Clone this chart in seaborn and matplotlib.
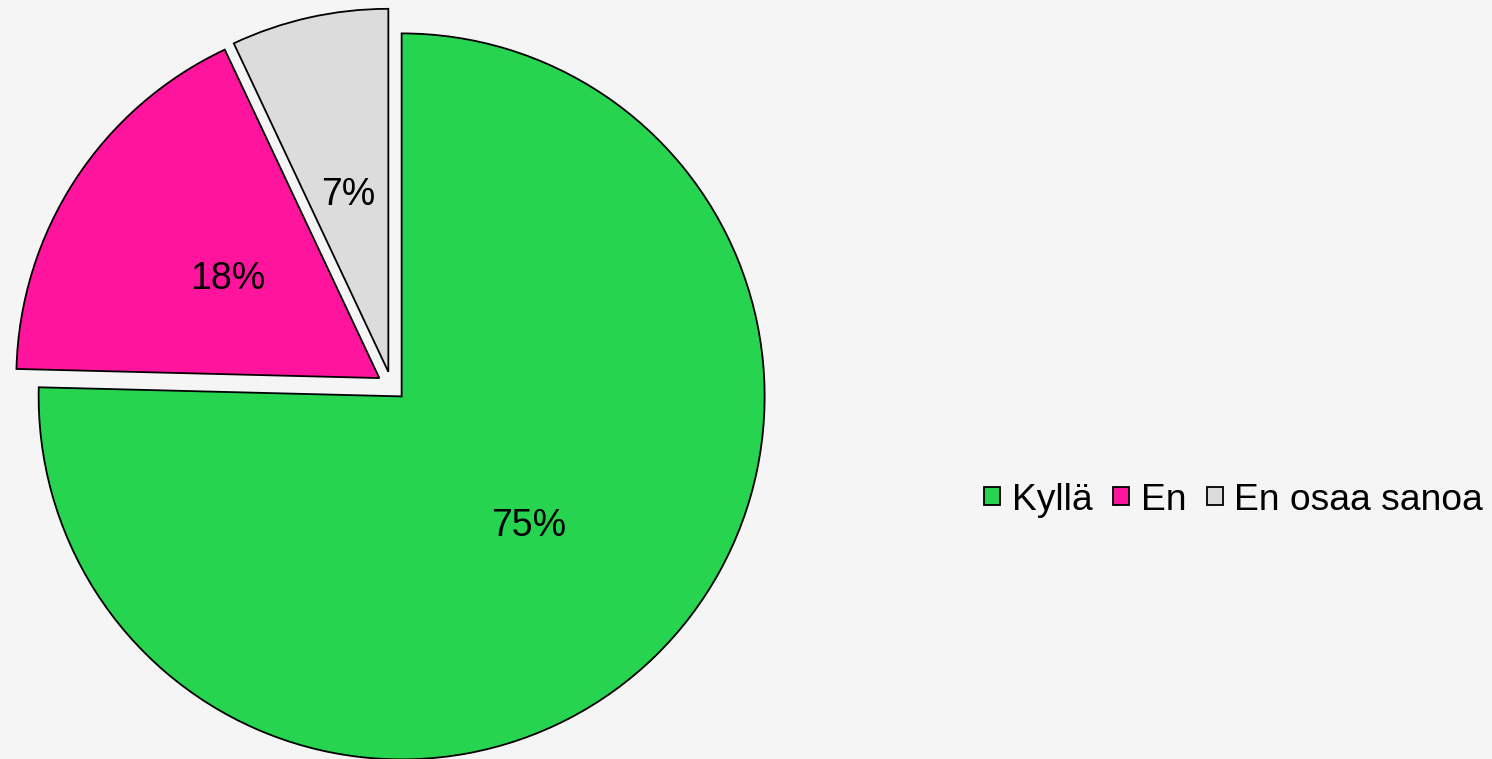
import matplotlib
matplotlib.use("Agg")
import matplotlib.pyplot as plt
import seaborn as sns

# answers and shares (%)
labels = ["Kyllä", "En", "En osaa sanoa"]
shares = [75.4, 17.6, 7.0]
shown = ["75%", "18%", "7%"]
colors = sns.color_palette(["#26D450", "#FF149E", "#DCDCDC"])

sns.set_theme(style="white")
plt.rcParams["font.family"] = ["Liberation Sans", "DejaVu Sans"]
plt.rcParams["text.color"] = "black"

bg = "#F5F5F5"
fig = plt.figure(figsize=(14.92, 7.59), dpi=100, facecolor=bg)
ax = fig.add_axes([0, 0, 1, 1])
ax.set_facecolor(bg)

it = iter(shown)
wedges, texts, autotexts = ax.pie(
    shares,
    colors=colors,
    startangle=90,
    counterclock=False,
    explode=[0.04, 0.04, 0.04],
    autopct=lambda p: next(it),
    pctdistance=0.5,
    wedgeprops=dict(edgecolor="black", linewidth=1.3),
    textprops=dict(fontsize=27, color="black"),
)

# place the pie centre like the reference (radius 363 px)
r = 363.0
cx, cy = 391.5, 373.0
ax.set_xlim(-cx / r, (1492 - cx) / r)
ax.set_ylim(-cy / r, (759 - cy) / r)
ax.set_aspect("equal")
ax.axis("off")

leg = fig.legend(
    wedges, labels,
    loc="center left",
    bbox_to_anchor=(984 / 1492, 1 - 500 / 759),
    ncol=3,
    frameon=False,
    fontsize=26.8,
    labelcolor="black",
    handlelength=0.42,
    handleheight=0.36,
    handletextpad=0.32,
    columnspacing=0.56,
    borderpad=0,
    borderaxespad=0,
)
for h in leg.legend_handles:
    h.set_linewidth(1.3)

fig.savefig("out.png", dpi=100, facecolor=bg)
